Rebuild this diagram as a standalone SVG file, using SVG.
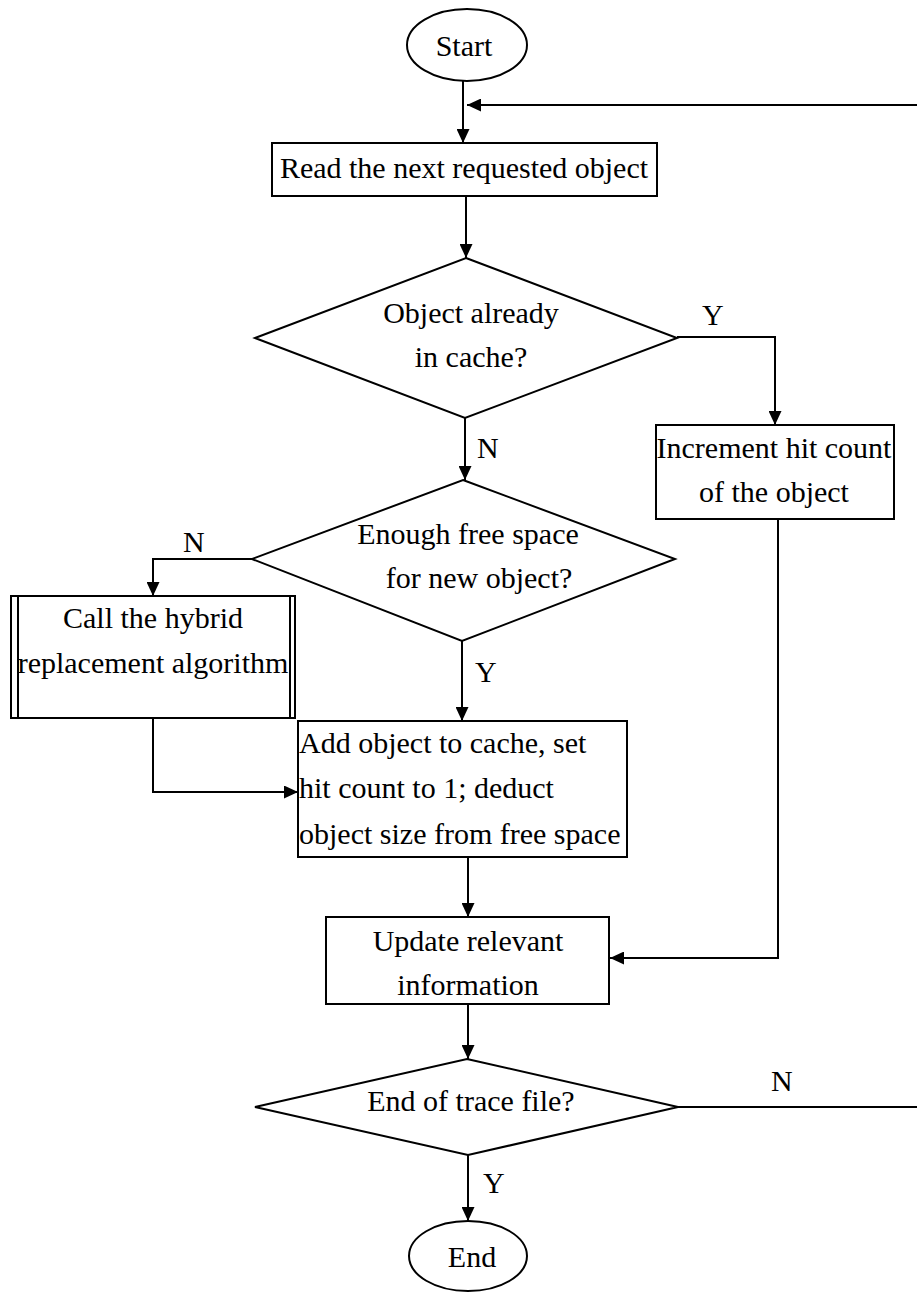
<svg xmlns="http://www.w3.org/2000/svg" width="917" height="1292" viewBox="0 0 917 1292">
<style>
.shape{fill:#fff;stroke:#000;stroke-width:2}
.line{fill:none;stroke:#000;stroke-width:2}
text{font-family:"Liberation Serif","Times New Roman",serif;font-size:30px;fill:#000}
.c{text-anchor:middle}
</style>
<defs>
<marker id="arr" viewBox="0 0 14 13" refX="14" refY="6.5" markerWidth="14" markerHeight="13" markerUnits="userSpaceOnUse" orient="auto">
<path d="M0,0 L14,6.5 L0,13 z" fill="#000"/>
</marker>
</defs>
<rect width="917" height="1292" fill="#fff"/>
<g id="connectors">
<path class="line" d="M463,81 V143" marker-end="url(#arr)"/>
<path class="line" d="M917,105 H467" marker-end="url(#arr)"/>
<path class="line" d="M466,196 V258" marker-end="url(#arr)"/>
<path class="line" d="M677,337 H775 V425" marker-end="url(#arr)"/>
<path class="line" d="M778,519 V958 H610" marker-end="url(#arr)"/>
<path class="line" d="M465,418 V480" marker-end="url(#arr)"/>
<path class="line" d="M252,559 H153 V596" marker-end="url(#arr)"/>
<path class="line" d="M153,718 V792 H298" marker-end="url(#arr)"/>
<path class="line" d="M462,641 V721" marker-end="url(#arr)"/>
<path class="line" d="M468,857 V917" marker-end="url(#arr)"/>
<path class="line" d="M468,1004 V1059" marker-end="url(#arr)"/>
<path class="line" d="M678,1107 H917"/>
<path class="line" d="M468,1155 V1221" marker-end="url(#arr)"/>
<text x="702" y="325">Y</text>
<text x="477" y="458">N</text>
<text x="183" y="552">N</text>
<text x="475" y="682">Y</text>
<text x="771" y="1091">N</text>
<text x="483" y="1193">Y</text>
</g>
<g id="start">
<ellipse class="shape" cx="467" cy="45" rx="60" ry="36"/>
<text class="c" x="464" y="56">Start</text>
</g>
<g id="read">
<rect class="shape" x="272" y="143" width="385" height="53"/>
<text class="c" x="464" y="178">Read the next requested object</text>
</g>
<g id="incache">
<polygon class="shape" points="466,258 677,338 465,418 255,338"/>
<text class="c" x="471" y="323">Object already</text>
<text class="c" x="471" y="367">in cache?</text>
</g>
<g id="increment">
<rect class="shape" x="656" y="425" width="238" height="94"/>
<text class="c" x="774" y="458">Increment hit count</text>
<text class="c" x="774" y="502">of the object</text>
</g>
<g id="freespace">
<polygon class="shape" points="463,480 675,559 462,641 252,559"/>
<text class="c" x="468" y="544">Enough free space</text>
<text class="c" x="479" y="588">for new object?</text>
</g>
<g id="hybrid">
<rect class="shape" x="11" y="596" width="284" height="122"/>
<line class="line" x1="18" y1="596" x2="18" y2="718"/>
<line class="line" x1="290" y1="596" x2="290" y2="718"/>
<text class="c" x="153" y="628">Call the hybrid</text>
<text class="c" x="153" y="673">replacement algorithm</text>
</g>
<g id="add">
<rect class="shape" x="298" y="721" width="329" height="136"/>
<text x="299" y="753">Add object to cache, set</text>
<text x="299" y="798">hit count to 1; deduct</text>
<text x="299" y="844">object size from free space</text>
</g>
<g id="update">
<rect class="shape" x="326" y="917" width="283" height="87"/>
<text class="c" x="468" y="951">Update relevant</text>
<text class="c" x="468" y="995">information</text>
</g>
<g id="endtrace">
<polygon class="shape" points="467,1059 678,1107 468,1155 255,1107"/>
<text class="c" x="471" y="1111">End of trace file?</text>
</g>
<g id="end">
<ellipse class="shape" cx="468" cy="1256" rx="59" ry="35"/>
<text class="c" x="472" y="1267">End</text>
</g>
</svg>
